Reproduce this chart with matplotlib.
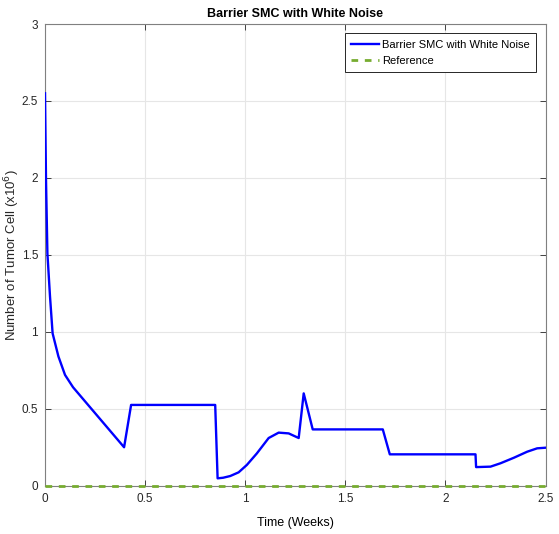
import numpy as np
import matplotlib.pyplot as plt

# time (weeks) and tumor cell count (x10^6) read along the controlled trajectory
t_weeks = [0.0, 0.005, 0.012, 0.025, 0.038, 0.067, 0.1, 0.14, 0.395, 0.43, 0.85,
           0.862, 0.89, 0.925, 0.967, 1.008, 1.058, 1.117, 1.167, 1.217, 1.267,
           1.292, 1.337, 1.687, 1.722, 2.15, 2.153, 2.225, 2.275, 2.342, 2.408,
           2.458, 2.5]
cells = [2.55, 1.99, 1.51, 1.23, 0.99, 0.84, 0.72, 0.64, 0.25, 0.525, 0.525,
         0.048, 0.052, 0.063, 0.087, 0.135, 0.21, 0.31, 0.345, 0.34, 0.31,
         0.60, 0.366, 0.366, 0.204, 0.204, 0.121, 0.124, 0.146, 0.182, 0.221,
         0.243, 0.247]
ref_t = [0.0, 2.5]
ref_val = [0.0, 0.0]

sans = ['Liberation Sans', 'DejaVu Sans']

fig = plt.figure(figsize=(5.59, 5.34), dpi=100)
ax = fig.add_axes([0.0805, 0.0904, 0.8955, 0.8646])

ax.plot(t_weeks, cells, color='#0000ff', lw=1.7, label='Barrier SMC with White Noise', zorder=3)
ax.plot(ref_t, ref_val, color='#77ac30', lw=2.0, ls=(0, (2.4, 2.4)), label='Reference',
        zorder=4, clip_on=False)

ax.set_xlim(0, 2.5)
ax.set_ylim(0, 3)
ax.set_xticks([0, 0.5, 1, 1.5, 2, 2.5])
ax.set_xticklabels(['0', '0.5', '1', '1.5', '2', '2.5'], family=sans, fontsize=8.5)
ax.set_yticks([0, 0.5, 1, 1.5, 2, 2.5, 3])
ax.set_yticklabels(['0', '0.5', '1', '1.5', '2', '2.5', '3'], family=sans, fontsize=8.5)
ax.grid(True, color='#e6e6e6', lw=0.8)
ax.set_axisbelow(True)
ax.tick_params(direction='in', top=True, right=True, colors='#262626', length=4, width=0.6,
               pad=5)
for s in ax.spines.values():
    s.set_color('#808080')
    s.set_linewidth(0.8)

ax.set_title('Barrier SMC with White Noise', family=sans, fontsize=9, fontweight='bold', pad=5)
ax.set_xlabel('Time (Weeks)', family=sans, fontsize=9)
ax.xaxis.set_label_coords(0.5, -0.068)
ax.set_ylabel('Number of Tumor Cell (x10$^6$)', family=sans, fontsize=9.5, color='#262626')
ax.yaxis.set_label_coords(-0.046, 0.5)

leg = ax.legend(loc='upper right', prop={'family': sans, 'size': 8}, fancybox=False,
                framealpha=1, edgecolor='#262626', handlelength=2.5, borderpad=0.55,
                labelspacing=0.55, handletextpad=0.3, borderaxespad=0.85)
leg.get_frame().set_linewidth(0.7)

fig.savefig('out.png', dpi=100)
